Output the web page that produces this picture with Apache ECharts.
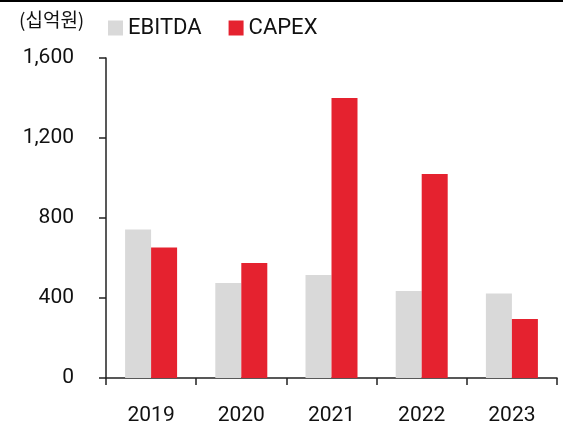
<!DOCTYPE html>
<html><head><meta charset="utf-8">
<script src="https://cdn.jsdelivr.net/npm/echarts@6/dist/echarts.min.js"></script>
<style>html,body{margin:0;padding:0;background:#fff}#c{width:563px;height:430px}</style>
</head><body><div id="c"></div>
<script>
const categories = ['2019','2020','2021','2022','2023'];
const ebitda = [743, 475, 515, 435, 423];
const capex = [653, 575, 1400, 1020, 295];
const seriesNames = ['EBITDA','CAPEX'];
const unitLabel = '(십억원)';
const yTicks = [0, 400, 800, 1200, 1600];

const font = 'Roboto, "Noto Sans CJK KR", sans-serif';
const chart = echarts.init(document.getElementById('c'), null, {renderer:'canvas'});
chart.setOption({
  animation:false,
  backgroundColor:'#fff',
  graphic:[{type:'rect', left:0, top:0, shape:{width:563, height:2}, style:{fill:'#000'}}],
  title:{text:unitLabel, left:14, top:5, textStyle:{fontFamily:'"Noto Sans CJK KR", sans-serif', fontSize:19, fontWeight:'normal', color:'#111'}},
  legend:{left:103, top:12, padding:5, itemWidth:15, itemHeight:15, itemGap:27, icon:'rect',
    textStyle:{fontFamily:font, fontSize:22, color:'#111'},
    data:seriesNames},
  grid:{left:106, right:6, top:58, bottom:52, containLabel:false},
  xAxis:{type:'category', data:categories,
    axisLine:{lineStyle:{color:'#222', width:1.5}},
    axisTick:{show:true, length:7, alignWithLabel:false, lineStyle:{color:'#222', width:1.5}},
    axisLabel:{margin:27, fontFamily:font, fontSize:21, color:'#111'}},
  yAxis:{type:'value', min:yTicks[0], max:yTicks[yTicks.length-1], interval:400,
    axisLine:{show:true, lineStyle:{color:'#222', width:1.5}},
    axisTick:{show:true, length:7, lineStyle:{color:'#222', width:1.5}},
    splitLine:{show:false},
    axisLabel:{margin:32, fontFamily:font, fontSize:21, color:'#111',
      formatter:v=>v.toLocaleString('en-US')}},
  series:[
    {name:seriesNames[0], type:'bar', data:ebitda, barWidth:26, barGap:'0%', itemStyle:{color:'#D9D9D9'}},
    {name:seriesNames[1], type:'bar', data:capex, barWidth:26, barGap:'0%', itemStyle:{color:'#E5222F'}}
  ]
});
</script></body></html>
